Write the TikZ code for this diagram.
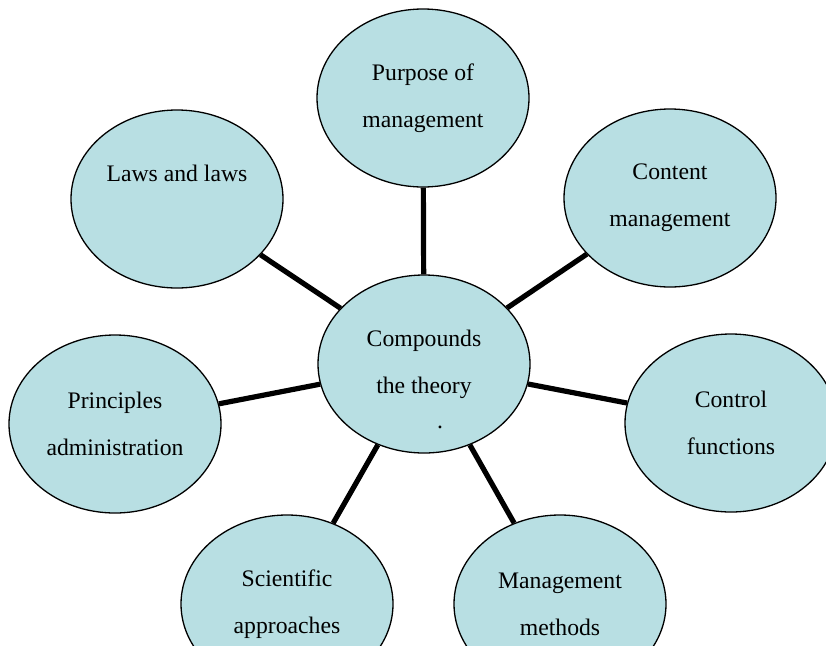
\documentclass[tikz,border=0pt]{standalone}
\usepackage{fontspec}
\setmainfont{Liberation Serif}
\usepackage{tikz}
\usetikzlibrary{shapes.geometric, positioning}
\definecolor{bubblefill}{RGB}{184,223,227}

\begin{document}
\begin{tikzpicture}[x=1pt, y=-1pt,
        topic/.style={ellipse,
              draw=black,
              line width=1.3pt,
              fill=bubblefill,
              text=black,
              inner sep=0pt,
              minimum width=212pt,
              minimum height=178pt,
              align=center,
              font=\fontsize{23.7}{47}\selectfont},
        spoke/.style={line width=5.2pt}]
        \useasboundingbox (0,0) rectangle (826,645);

        % Add the topics
        \node[topic] (c) at (424,364) {Compounds\\the theory};
        \node[font=\fontsize{23.7}{47}\selectfont,
              inner sep=0pt] (dot) at (440,427) {.};
        \node[topic] (p)  at (423,98)  {Purpose of\\management};
        \node[topic] (cm) at (670,198) {Content\\management};
        \node[topic] (l)  at (177,199) {Laws and laws\\\vphantom{g}};
        \node[topic] (pa) at (115,424) {Principles\\administration};
        \node[topic] (cf) at (731,423) {Control\\functions};
        \node[topic] (sa) at (287,604) {Scientific\\approaches};
        \node[topic] (mm) at (560,604) {Management\\methods};

        % Connect the topics with spokes
        \draw[spoke]
            (c) edge (p)
            (c) edge (cm)
            (c) edge (l)
            (c) edge (pa)
            (c) edge (cf)
            (c) edge (sa)
            (c) edge (mm);
\end{tikzpicture}
\end{document}
